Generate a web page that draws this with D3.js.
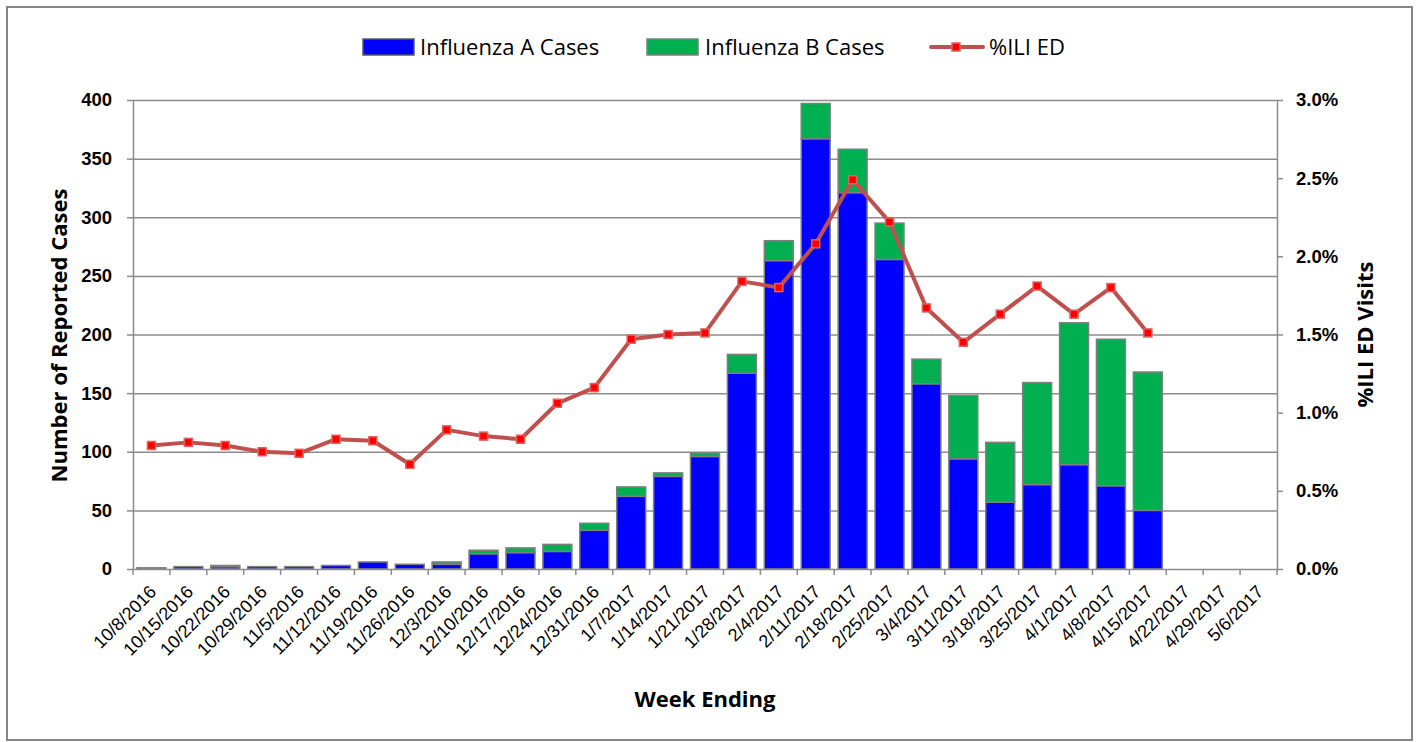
<!DOCTYPE html>
<html>
<head>
<meta charset="utf-8">
<script src="https://cdn.jsdelivr.net/npm/d3@7"></script>
<style>
	body { margin: 0; background: #fff; }
	svg { font-family: "Open Sans", Lato, sans-serif; }
	.grid line { stroke: #8c8c8c; stroke-width: 1.5; }
	.grid path { stroke: none; }
	.axis path, .axis line { stroke: #8c8c8c; stroke-width: 1.5; }
	.axis text { fill: #000; }
</style>
</head>
<body>
<div id="chart"></div>
<script>
//week ending dates
var weeks = ['10/8/2016','10/15/2016','10/22/2016','10/29/2016','11/5/2016','11/12/2016','11/19/2016','11/26/2016',
	'12/3/2016','12/10/2016','12/17/2016','12/24/2016','12/31/2016','1/7/2017','1/14/2017','1/21/2017','1/28/2017',
	'2/4/2017','2/11/2017','2/18/2017','2/25/2017','3/4/2017','3/11/2017','3/18/2017','3/25/2017','4/1/2017',
	'4/8/2017','4/15/2017','4/22/2017','4/29/2017','5/6/2017'];
var fluA = [1,2,2,2,2,3,6,4,4,13,14,15,33,62,79,96,167,263,367,321,264,158,94,57,72,89,71,50,null,null,null];
var fluB = [0,0,1,0,0,0,0,0,2,3,4,6,6,8,3,3,16,17,30,37,31,21,54,51,87,121,125,118,null,null,null];
var iliED = [0.79,0.81,0.79,0.75,0.74,0.83,0.82,0.67,0.89,0.85,0.83,1.06,1.16,1.47,1.50,1.51,1.84,1.80,2.08,2.49,2.22,1.67,1.45,1.63,1.81,1.63,1.80,1.51,null,null,null];
var leftTicks = [0,50,100,150,200,250,300,350,400];
var rightTicks = [0,0.5,1.0,1.5,2.0,2.5,3.0];

var W = 1418, H = 742;
var margin = {top: 100, right: 141, bottom: 173, left: 133};
var graph_w = W - margin.left - margin.right;
var graph_h = H - margin.top - margin.bottom;

var svg = d3.select('#chart').append('svg')
	.attr('width', W)
	.attr('height', H);

//outer frame
svg.append('rect')
	.attr('x', 7).attr('y', 7)
	.attr('width', 1405).attr('height', 733)
	.attr('fill', 'none')
	.attr('stroke', '#868686')
	.attr('stroke-width', 2);

var g = svg.append('g')
	.attr('transform', 'translate(' + margin.left + ',' + margin.top + ')');

var x = d3.scaleBand()
	.domain(weeks)
	.range([0, graph_w])
	.paddingInner(0.215)
	.paddingOuter(0.1075);

var y = d3.scaleLinear()
	.domain([0, 400])
	.range([graph_h, 0]);

var y2 = d3.scaleLinear()
	.domain([0, 3])
	.range([graph_h, 0]);

// horizontal gridlines
g.append('g')
	.attr('class', 'grid')
	.call(d3.axisLeft(y)
		.tickValues(leftTicks.slice(1))
		.tickSize(-graph_w)
		.tickFormat('')
	);

// stacked bars
var stackData = weeks.map(function(w, i) { return {week: w, a: fluA[i], b: fluB[i]}; })
	.filter(function(d) { return d.a !== null; });

g.selectAll('rect.barA')
	.data(stackData)
	.enter().append('rect')
	.attr('class', 'barA')
	.attr('x', function(d) { return x(d.week); })
	.attr('width', x.bandwidth())
	.attr('y', function(d) { return y(d.a); })
	.attr('height', function(d) { return y(0) - y(d.a); })
	.attr('fill', '#0000ff')
	.attr('stroke', '#7f7f7f')
	.attr('stroke-width', 1.5);

g.selectAll('rect.barB')
	.data(stackData)
	.enter().append('rect')
	.attr('class', 'barB')
	.attr('x', function(d) { return x(d.week); })
	.attr('width', x.bandwidth())
	.attr('y', function(d) { return y(d.a + d.b); })
	.attr('height', function(d) { return y(d.a) - y(d.a + d.b); })
	.attr('fill', '#00b050')
	.attr('stroke', '#7f7f7f')
	.attr('stroke-width', 1.5);

// x axis
var xAxis = g.append('g')
	.attr('class', 'axis x')
	.attr('transform', 'translate(0,' + graph_h + ')')
	.call(d3.axisBottom(x).tickSize(0).tickSizeOuter(0));

// ticks between categories
var step = x.step();
xAxis.selectAll('line.sep')
	.data(d3.range(weeks.length + 1))
	.enter().append('line')
	.attr('class', 'sep')
	.attr('x1', function(i) { return i * step; })
	.attr('x2', function(i) { return i * step; })
	.attr('y1', 0)
	.attr('y2', 6);

xAxis.selectAll('.tick text')
	.attr('font-size', 18)
	.attr('text-anchor', 'end')
	.attr('x', 0).attr('y', 0).attr('dy', 0)
	.attr('transform', 'translate(6,24) rotate(-45)');

// left axis
var yAxis = g.append('g')
	.attr('class', 'axis y')
	.call(d3.axisLeft(y).tickValues(leftTicks).tickSize(6).tickPadding(15).tickSizeOuter(0));
yAxis.selectAll('text').attr('font-size', 18.5).attr('font-weight', 'bold');

// right axis
var y2Axis = g.append('g')
	.attr('class', 'axis y2')
	.attr('transform', 'translate(' + graph_w + ',0)')
	.call(d3.axisRight(y2).tickValues(rightTicks).tickSize(6).tickPadding(13).tickSizeOuter(0)
		.tickFormat(function(d) { return d.toFixed(1) + '%'; }));
y2Axis.selectAll('text').attr('font-size', 18.5).attr('font-weight', 'bold');

// ILI line
var lineData = weeks.map(function(w, i) { return {week: w, v: iliED[i]}; })
	.filter(function(d) { return d.v !== null; });

var line = d3.line()
	.x(function(d) { return x(d.week) + x.bandwidth() / 2; })
	.y(function(d) { return y2(d.v); });

g.append('path')
	.datum(lineData)
	.attr('fill', 'none')
	.attr('stroke', '#c0504d')
	.attr('stroke-width', 4)
	.attr('stroke-linejoin', 'round')
	.attr('d', line);

g.selectAll('rect.marker')
	.data(lineData)
	.enter().append('rect')
	.attr('class', 'marker')
	.attr('x', function(d) { return x(d.week) + x.bandwidth() / 2 - 4; })
	.attr('y', function(d) { return y2(d.v) - 4; })
	.attr('width', 8)
	.attr('height', 8)
	.attr('fill', '#ff0000')
	.attr('stroke', '#e0605c')
	.attr('stroke-width', 1.5);

// axis titles
svg.append('text')
	.attr('x', 705)
	.attr('y', 707)
	.attr('text-anchor', 'middle')
	.attr('font-size', 22)
	.attr('font-weight', 'bold')
	.text('Week Ending');

svg.append('text')
	.attr('transform', 'translate(67,' + (margin.top + graph_h / 2 + 1) + ') rotate(-90)')
	.attr('text-anchor', 'middle')
	.attr('font-size', 22)
	.attr('font-weight', 'bold')
	.text('Number of Reported Cases');

svg.append('text')
	.attr('transform', 'translate(1373,' + (margin.top + graph_h / 2) + ') rotate(-90)')
	.attr('text-anchor', 'middle')
	.attr('font-size', 22)
	.attr('font-weight', 'bold')
	.text('%ILI ED Visits');

// legend
var legend = svg.append('g').attr('font-size', 22);
legend.append('rect').attr('x', 363).attr('y', 39).attr('width', 51).attr('height', 16)
	.attr('fill', '#0000ff').attr('stroke', '#595959').attr('stroke-width', 1.5);
legend.append('text').attr('x', 420).attr('y', 55).text('Influenza A Cases');
legend.append('rect').attr('x', 647).attr('y', 39).attr('width', 51).attr('height', 16)
	.attr('fill', '#00b050').attr('stroke', '#7f7f7f').attr('stroke-width', 1.5);
legend.append('text').attr('x', 705).attr('y', 55).text('Influenza B Cases');
legend.append('line').attr('x1', 931).attr('x2', 983).attr('y1', 47).attr('y2', 47)
	.attr('stroke', '#c0504d').attr('stroke-width', 4).attr('stroke-linecap', 'round');
legend.append('rect').attr('x', 952).attr('y', 43).attr('width', 8).attr('height', 8)
	.attr('fill', '#ff0000').attr('stroke', '#e0605c').attr('stroke-width', 1.5);
legend.append('text').attr('x', 989).attr('y', 55).text('%ILI ED');
</script>
</body>
</html>
